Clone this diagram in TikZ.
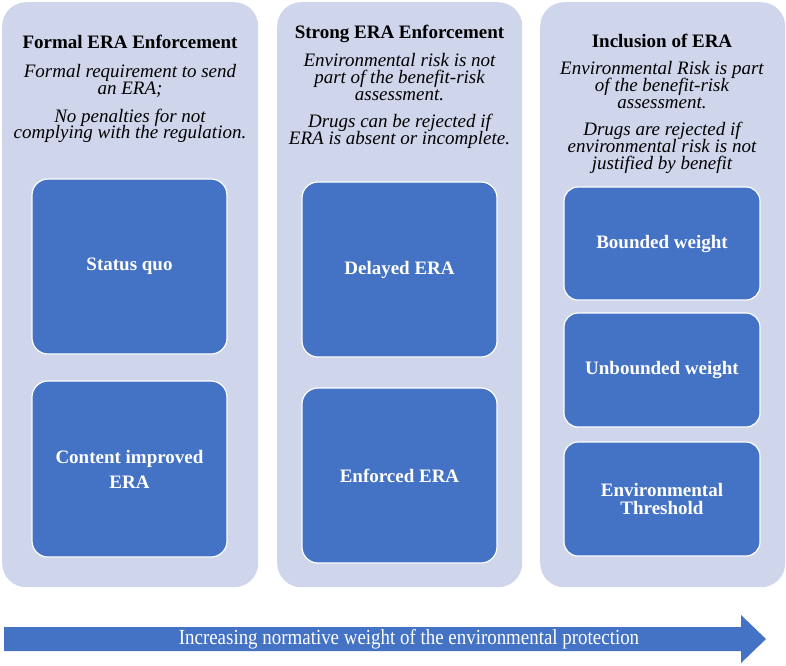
\documentclass[tikz,border=0pt]{standalone}
\usepackage{fontspec}
\setmainfont{Liberation Serif}
\definecolor{panelc}{HTML}{CFD5EA}
\definecolor{bluec}{HTML}{4472C4}
\tikzset{
  panel/.style={fill=panelc, draw=none, rounded corners=24pt, inner sep=0pt, anchor=north west},
  optbox/.style={fill=bluec, draw=white, line width=1.2pt, rounded corners=16pt, inner sep=0pt,
    text=white, font=\fontsize{19}{25}\selectfont\bfseries, align=center},
  ttl/.style={font=\fontsize{19}{20}\selectfont\bfseries, anchor=base, inner sep=0pt},
  desc/.style={font=\fontsize{19}{20}\selectfont\itshape, anchor=base, inner sep=0pt},
}
\begin{document}
\begin{tikzpicture}[x=1pt,y=-1pt]
\useasboundingbox (0,0) rectangle (786,665);
% panels
\node[panel, minimum width=256pt, minimum height=585pt] (pan1) at (2,2) {};
\node[panel, minimum width=245pt, minimum height=585pt] (pan2) at (277,2) {};
\node[panel, minimum width=245pt, minimum height=585pt] (pan3) at (540,2) {};
% panel 1 texts
\node[ttl]  (t1)   at (130,48)  {Formal ERA Enforcement};
\node[desc] (d1a)  at (130,77)  {Formal requirement to send};
\node[desc] (d1b)  at (130,94)  {an ERA;};
\node[desc] (d1c)  at (130,122) {No penalties for not};
\node[desc] (d1d)  at (130,138) {complying with the regulation.};
% panel 2 texts
\node[ttl]  (t2)   at (399.5,38)  {Strong ERA Enforcement};
\node[desc] (d2a)  at (399.5,66)  {Environmental risk is not};
\node[desc] (d2b)  at (399.5,83)  {part of the benefit-risk};
\node[desc] (d2c)  at (399.5,100) {assessment.};
\node[desc] (d2d)  at (399.5,127) {Drugs can be rejected if};
\node[desc] (d2e)  at (399.5,144) {ERA is absent or incomplete.};
% panel 3 texts
\node[ttl]  (t3)   at (662,47)  {Inclusion of ERA};
\node[desc] (d3a)  at (662,74)  {Environmental Risk is part};
\node[desc] (d3b)  at (662,91)  {of the benefit-risk};
\node[desc] (d3c)  at (662,108) {assessment.};
\node[desc] (d3d)  at (662,135) {Drugs are rejected if};
\node[desc] (d3e)  at (662,152) {environmental risk is not};
\node[desc] (d3f)  at (662,169) {justified by benefit};
% option boxes
\node[optbox, minimum width=195pt, minimum height=175pt] (sq)  at (129.5,266.5) {Status quo};
\node[optbox, minimum width=195pt, minimum height=176pt] (ci)  at (129.5,469)   {Content improved\\ERA};
\node[optbox, minimum width=195pt, minimum height=175pt] (de)  at (399.5,269.5) {Delayed ERA};
\node[optbox, minimum width=195pt, minimum height=175pt] (en)  at (399.5,475.5) {Enforced ERA};
\node[optbox, minimum width=196pt, minimum height=113pt, rounded corners=14pt, font=\fontsize{19}{18}\selectfont\bfseries] (bw) at (662,243.5) {Bounded weight};
\node[optbox, minimum width=196pt, minimum height=114pt, rounded corners=14pt, font=\fontsize{19}{18}\selectfont\bfseries] (uw) at (662,370)   {Unbounded weight};
\node[optbox, minimum width=196pt, minimum height=114pt, rounded corners=14pt, font=\fontsize{19}{18}\selectfont\bfseries] (et) at (662,499)   {Environmental\\Threshold};
% arrow
\coordinate (a1) at (4,627);
\coordinate (a2) at (741,627);
\coordinate (a3) at (741,615);
\coordinate (a4) at (766,639);
\coordinate (a5) at (741,663);
\coordinate (a6) at (741,651);
\coordinate (a7) at (4,651);
\fill[bluec] (a1) -- (a2) -- (a3) -- (a4) -- (a5) -- (a6) -- (a7) -- cycle;
\node[text=white, inner sep=0pt, font=\fontsize{21.5}{22}\selectfont] (arrtxt) at (409,639)
  {\scalebox{0.88}[1]{Increasing normative weight of the environmental protection}};
\end{tikzpicture}
\end{document}
